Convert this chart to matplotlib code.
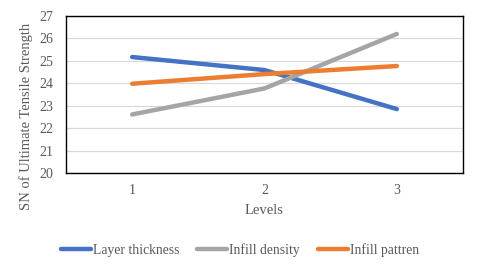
import matplotlib.pyplot as plt

plt.rcParams['font.family'] = ['Liberation Serif', 'DejaVu Serif']

# Dữ liệu
levels = [1, 2, 3]
layer_thickness = [25.17, 24.59, 22.85]
infill_density = [22.61, 23.77, 26.2]
infill_pattren = [23.98, 24.41, 24.77]

text_color = "#595959"

fig = plt.figure(figsize=(4.8, 2.71), dpi=100)
ax = fig.add_axes([66/480, 1-173/271, (463-66)/480, (173-16)/271])

ax.plot(levels, layer_thickness, color="#4472C4", lw=3.2, label="Layer thickness", solid_capstyle="round")
ax.plot(levels, infill_density, color="#A5A5A5", lw=3.2, label="Infill density", solid_capstyle="round")
ax.plot(levels, infill_pattren, color="#ED7D31", lw=3.2, label="Infill pattren", solid_capstyle="round")

ax.set_xlim(0.5, 3.5)
ax.set_ylim(20, 27)
ax.set_xticks(levels)
ax.set_yticks(range(20, 28))
ax.grid(axis="y", color="#D9D9D9", lw=0.9)
ax.set_axisbelow(True)
for s in ax.spines.values():
    s.set_color("black")
    s.set_linewidth(1.0)
ax.tick_params(length=0, labelsize=10, colors=text_color, pad=8)
ax.tick_params(axis="y", pad=9)

ax.set_xlabel("Levels", fontsize=10.5, color=text_color, labelpad=5)
ax.set_ylabel("SN of Ultimate Tensile Strength", fontsize=10.5, color=text_color)
ax.yaxis.set_label_coords(-0.083, 0.36)

fig.legend(loc="center", bbox_to_anchor=(0.5, 1-250/271), ncol=3, frameon=False,
           fontsize=9.8, labelcolor=text_color, handlelength=2.2, handletextpad=0.15,
           columnspacing=1.3)

fig.savefig("out.png", dpi=100)
